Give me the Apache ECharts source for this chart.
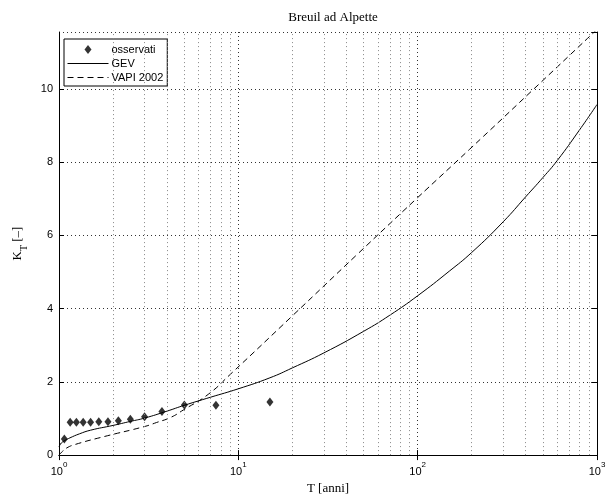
<!DOCTYPE html>
<html lang="it">
<head>
    <title>Breuil ad Alpette</title>
    <meta charset="utf-8" />
    <script src="https://cdn.jsdelivr.net/npm/echarts@6/dist/echarts.min.js"></script>
    <style>
        body { margin: 0; background: #fff; }
        #main { width: 613px; height: 500px; }
    </style>
</head>
<body>
<div id="main"></div>
<script type="text/javascript">
    // osservati (Weibull plotting positions, n = 14)
    let obsT = [1.071, 1.154, 1.25, 1.364, 1.5, 1.667, 1.875, 2.143, 2.5, 3, 3.75, 5, 7.5, 15]
    let obsK = [0.44, 0.90, 0.90, 0.90, 0.90, 0.91, 0.91, 0.94, 0.98, 1.05, 1.19, 1.37, 1.36, 1.45]

    // GEV curve
    let gevT = [1, 1.01, 1.03, 1.08, 1.15, 1.3, 1.5, 2, 2.5, 3, 4, 5, 7, 10, 15, 20, 30, 50, 70, 100, 150, 200, 300, 400, 500, 600, 800, 1000]
    let gevK = [0.22, 0.27, 0.33, 0.40, 0.47, 0.58, 0.68, 0.81, 0.92, 1.01, 1.20, 1.36, 1.58, 1.81, 2.11, 2.38, 2.79, 3.38, 3.82, 4.35, 5.02, 5.53, 6.37, 7.05, 7.58, 8.04, 8.88, 9.57]

    // VAPI 2002 curve
    let vapiT = [1, 1.035, 1.1, 1.23, 1.8, 3.0, 3.5, 4.2, 4.93, 6.8, 9, 20, 46.5, 98, 195, 439, 1000]
    let vapiK = [0.0, 0.08, 0.19, 0.29, 0.51, 0.78, 0.89, 1.03, 1.23, 1.66, 2.20, 3.80, 5.50, 6.99, 8.35, 9.97, 11.62]

    // minor log grid positions
    let minorT = [2, 3, 4, 5, 6, 7, 8, 9, 20, 30, 40, 50, 60, 70, 80, 90, 200, 300, 400, 500, 600, 700, 800, 900]

    let yMax = 11.55
    let sansFont = '"Liberation Sans", Arial, Helvetica, sans-serif'
    let serifFont = '"Liberation Serif", "Times New Roman", serif'
    let diamondIcon = 'path://M3.5,0 L7,4.5 L3.5,9 L0,4.5 Z'

    function pairs(xs, ys) {
        return xs.map(function (x, i) { return [x, ys[i]] })
    }

    let dotted = { color: '#333', width: 1, type: [1, 3] }

    let myChart = echarts.init(document.getElementById('main'), null, { renderer: 'canvas' })

    let option = {
        animation: false,
        backgroundColor: '#fff',
        title: {
            text: 'Breuil ad Alpette',
            left: 328,
            textAlign: 'center',
            top: 6,
            textStyle: { fontFamily: serifFont, fontSize: 13, fontWeight: 'normal', color: '#000' }
        },
        legend: {
            orient: 'vertical',
            left: 64,
            top: 39,
            padding: [5, 4, 3, 3],
            itemGap: 3,
            itemWidth: 41,
            itemHeight: 9,
            symbolKeepAspect: true,
            borderColor: '#000',
            borderWidth: 1,
            backgroundColor: '#fff',
            lineStyle: { width: 1 },
            textStyle: { fontFamily: sansFont, fontSize: 11, color: '#000', padding: [0, 0, 0, -2] },
            data: [
                { name: 'osservati', icon: diamondIcon, symbolKeepAspect: true },
                { name: 'GEV', itemStyle: { opacity: 0 } },
                { name: 'VAPI 2002', itemStyle: { opacity: 0 } }
            ]
        },
        grid: { left: 59, right: 16, top: 32, bottom: 42 },
        xAxis: [
            {
                type: 'log',
                logBase: 10,
                min: 1,
                max: 1000,
                name: 'T [anni]',
                nameLocation: 'middle',
                nameGap: 24,
                nameTextStyle: { fontFamily: serifFont, fontSize: 13, color: '#000' },
                axisLine: { lineStyle: { color: '#000', width: 1 } },
                axisTick: { inside: true, length: 5, lineStyle: { color: '#000' } },
                axisLabel: {
                    margin: 6,
                    formatter: function (v) {
                        return '{b|10}{s|' + Math.round(Math.log10(v)) + '}'
                    },
                    rich: {
                        b: { fontFamily: sansFont, fontSize: 11, color: '#000', lineHeight: 16, verticalAlign: 'bottom' },
                        s: { fontFamily: sansFont, fontSize: 8, color: '#000', lineHeight: 16, verticalAlign: 'top' }
                    }
                },
                splitLine: { show: true, lineStyle: dotted }
            },
            {
                type: 'log',
                logBase: 10,
                min: 1,
                max: 1000,
                position: 'top',
                axisLine: { lineStyle: { color: '#000', width: 1 } },
                axisTick: { inside: true, length: 5, lineStyle: { color: '#000' } },
                axisLabel: { show: false },
                splitLine: { show: false }
            }
        ],
        yAxis: [
            {
                type: 'value',
                min: 0,
                max: yMax,
                interval: 2,
                name: '{k|K}{t|T}{k| [\u2013]}',
                nameLocation: 'middle',
                nameRotate: 90,
                nameGap: 30,
                nameTextStyle: {
                    rich: {
                        k: { fontFamily: serifFont, fontSize: 13, color: '#000', lineHeight: 18, verticalAlign: 'top' },
                        t: { fontFamily: serifFont, fontSize: 10, color: '#000', lineHeight: 18, verticalAlign: 'bottom' }
                    }
                },
                axisLine: { show: true, lineStyle: { color: '#000', width: 1 } },
                axisTick: { show: true, inside: true, length: 5, lineStyle: { color: '#000' } },
                axisLabel: {
                    margin: 6,
                    fontFamily: sansFont,
                    fontSize: 11,
                    color: '#000',
                    showMaxLabel: false,
                    formatter: function (v) { return v % 2 === 0 ? String(v) : '' }
                },
                splitLine: { show: true, lineStyle: dotted }
            },
            {
                type: 'value',
                min: 0,
                max: yMax,
                interval: 2,
                position: 'right',
                axisLine: { show: true, lineStyle: { color: '#000', width: 1 } },
                axisTick: { show: true, inside: true, length: 5, lineStyle: { color: '#000' } },
                axisLabel: { show: false },
                splitLine: { show: false }
            }
        ],
        series: [
            {
                name: 'minor',
                type: 'line',
                data: [],
                silent: true,
                z: 1,
                markLine: {
                    silent: true,
                    symbol: 'none',
                    label: { show: false },
                    lineStyle: { color: '#888', width: 1, type: [1, 3] },
                    data: minorT.map(function (t) { return { xAxis: t } })
                }
            },
            {
                name: 'GEV',
                type: 'line',
                data: pairs(gevT, gevK),
                symbol: 'none',
                smooth: 0.5,
                z: 3,
                lineStyle: { color: '#000', width: 1 },
                itemStyle: { color: '#000' }
            },
            {
                name: 'VAPI 2002',
                type: 'line',
                data: pairs(vapiT, vapiK),
                symbol: 'none',
                smooth: 0.5,
                z: 3,
                lineStyle: { color: '#000', width: 1, type: [6, 4] },
                itemStyle: { color: '#000' }
            },
            {
                name: 'osservati',
                type: 'scatter',
                data: pairs(obsT, obsK),
                symbol: 'diamond',
                symbolSize: [7, 9],
                z: 4,
                itemStyle: { color: '#000' }
            }
        ]
    }

    myChart.setOption(option)
</script>
</body>
</html>
